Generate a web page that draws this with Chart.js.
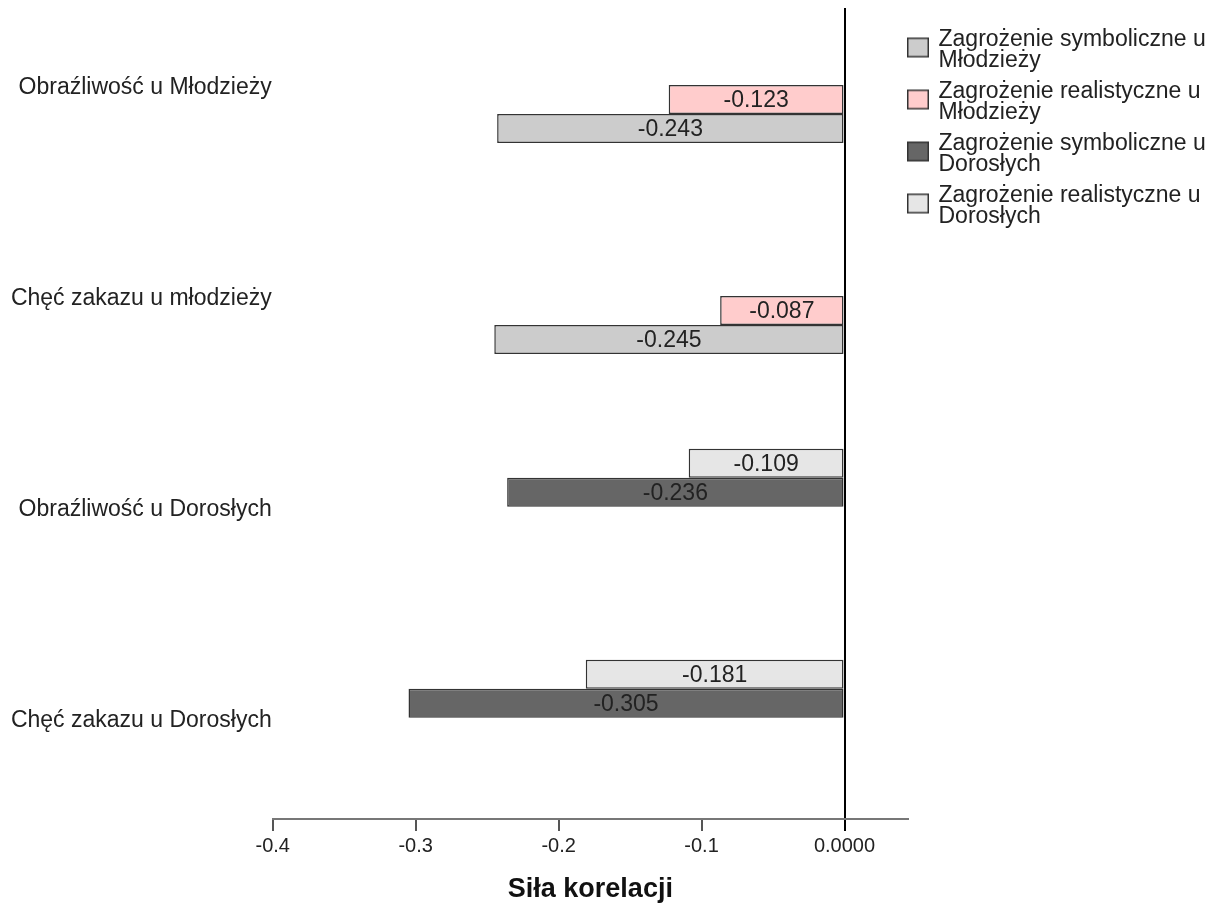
<!DOCTYPE html>
<html>
<head>
<meta charset="utf-8">
<script src="https://cdn.jsdelivr.net/npm/chart.js"></script>
<style>
  html, body { margin: 0; padding: 0; background: #fff; }
</style>
</head>
<body>
<canvas id="corrChart" width="1218" height="909"></canvas>
<script>
// data
const categories = ['Obraźliwość u Młodzieży', 'Chęć zakazu u młodzieży', 'Obraźliwość u Dorosłych', 'Chęć zakazu u Dorosłych'];
const symbolicYouth = [-0.243, -0.245, null, null];
const realisticYouth = [-0.123, -0.087, null, null];
const symbolicAdults = [null, null, -0.236, -0.305];
const realisticAdults = [null, null, -0.109, -0.181];
const xTickValues = [-0.4, -0.3, -0.2, -0.1, 0];
const xTickLabels = ['-0.4', '-0.3', '-0.2', '-0.1', '0.0000'];

const FONT = '"Liberation Sans", Arial, sans-serif';

// legend swatch: box drawn lower than the first text line, as in the original
function swatch(color) {
  const c = document.createElement('canvas');
  c.width = 24; c.height = 60;
  const g = c.getContext('2d');
  g.fillStyle = color;
  g.fillRect(2, 28, 22, 20);
  g.strokeStyle = '#333';
  g.lineWidth = 1.5;
  g.strokeRect(2.75, 28.75, 20.5, 18.5);
  return c;
}

function toPoints(arr) {
  return arr.map((v, i) => ({ y: i, x: v }));
}

// bars from top to bottom inside a cluster
const datasets = [
  { label: ['Zagrożenie realistyczne u', 'Dorosłych'], data: toPoints(realisticAdults), backgroundColor: '#e6e6e6' },
  { label: ['Zagrożenie symboliczne u', 'Dorosłych'], data: toPoints(symbolicAdults), backgroundColor: '#666666' },
  { label: ['Zagrożenie realistyczne u', 'Młodzieży'], data: toPoints(realisticYouth), backgroundColor: '#ffcccc' },
  { label: ['Zagrożenie symboliczne u', 'Młodzieży'], data: toPoints(symbolicYouth), backgroundColor: '#cccccc' }
];
datasets.forEach(ds => {
  ds.borderColor = '#333';
  ds.borderWidth = 1.5;
  ds.borderSkipped = false;
  ds.categoryPercentage = 0.55;
  ds.barPercentage = 1.0;
});
const swatches = datasets.map(ds => swatch(ds.backgroundColor));

const barLabels = {
  id: 'barLabels',
  afterDatasetsDraw(chart) {
    const ctx = chart.ctx;
    ctx.save();
    ctx.font = '23px ' + FONT;
    ctx.fillStyle = '#222';
    ctx.textAlign = 'center';
    ctx.textBaseline = 'middle';
    chart.data.datasets.forEach((ds, di) => {
      chart.getDatasetMeta(di).data.forEach((bar, i) => {
        const v = ds.data[i].x;
        if (v === null) return;
        ctx.fillText(v.toFixed(3), (bar.x + bar.base) / 2, bar.y + 1);
      });
    });
    ctx.restore();
  }
};

// legend sits in the right margin, next to the end of the x axis
const legendPlace = {
  id: 'legendPlace',
  afterLayout(chart) {
    const lg = chart.legend;
    const h = lg.bottom - lg.top;
    lg.left = 897;
    lg.right = 1218;
    lg.width = lg.right - lg.left;
    lg.top = 18;
    lg.bottom = 18 + h;
    lg.height = h;
  }
};

new Chart(document.getElementById('corrChart'), {
  type: 'bar',
  data: { datasets: datasets },
  plugins: [barLabels, legendPlace],
  options: {
    responsive: false,
    animation: false,
    indexAxis: 'y',
    layout: { padding: { top: 8, left: 0, right: 310, bottom: 0 } },
    scales: {
      y: {
        type: 'linear',
        reverse: true,
        offset: false,
        min: -0.365,
        max: 3.48,
        grid: { display: false, drawTicks: false },
        border: { display: false },
        afterBuildTicks(scale) {
          scale.ticks = categories.map((c, i) => ({ value: i }));
        },
        afterFit(scale) {
          scale.width = 272.7;
          scale.paddingTop = 0;
          scale.paddingBottom = 0;
        },
        ticks: {
          padding: 1,
          labelOffset: 3,
          color: '#222',
          font: { family: FONT, size: 23 },
          callback: (v) => categories[v]
        }
      },
      x: {
        type: 'linear',
        min: -0.4,
        max: 0.0444,
        z: 1,
        afterBuildTicks(scale) {
          scale.ticks = xTickValues.map(v => ({ value: v }));
        },
        grid: {
          color: (c) => (c.tick && c.tick.value === 0 ? '#000' : 'rgba(0,0,0,0)'),
          lineWidth: 2,
          tickColor: (c) => (c.tick && c.tick.value === 0 ? '#000' : '#555'),
          tickWidth: 2,
          tickLength: 12
        },
        border: { display: true, color: '#777', width: 2 },
        ticks: {
          padding: 3,
          color: '#222',
          maxRotation: 0,
          font: { family: FONT, size: 20 },
          callback: (v, i) => xTickLabels[i]
        },
        title: {
          display: true,
          text: 'Siła korelacji',
          color: '#111',
          font: { family: FONT, size: 27, weight: 'bold' },
          padding: { top: 12.6, bottom: 3 }
        }
      }
    },
    plugins: {
      legend: {
        position: 'chartArea',
        align: 'start',
        reverse: true,
        labels: {
          usePointStyle: true,
          boxWidth: 20,
          boxHeight: 20,
          padding: 10,
          color: '#222',
          font: { family: FONT, size: 23, lineHeight: '21px' },
          generateLabels(chart) {
            const items = Chart.defaults.plugins.legend.labels.generateLabels(chart);
            items.forEach(it => { it.pointStyle = swatches[it.datasetIndex]; });
            return items;
          }
        }
      },
      tooltip: { enabled: false }
    }
  }
});
</script>
</body>
</html>
